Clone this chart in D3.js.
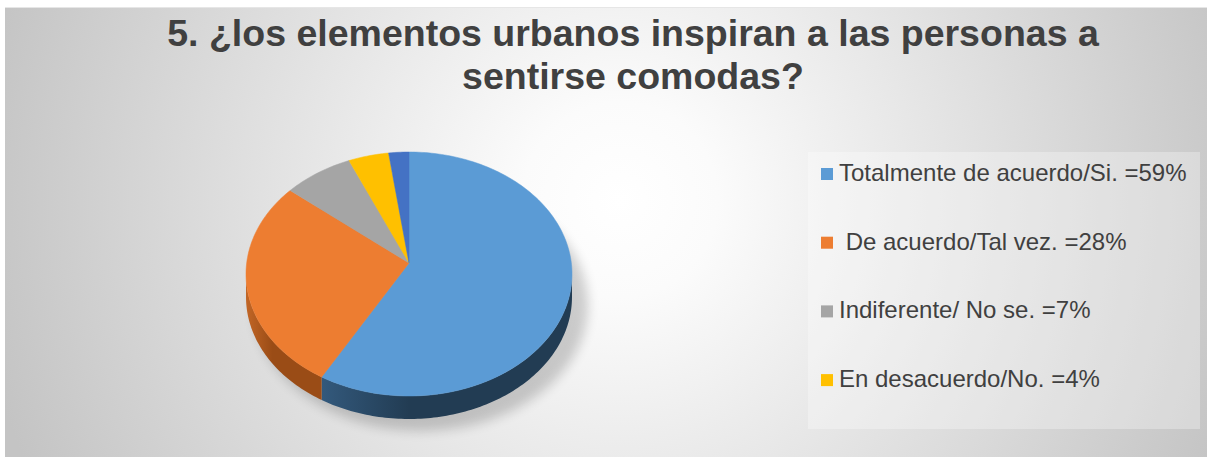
<!DOCTYPE html>
<html><head><meta charset="utf-8">
<script src="https://cdn.jsdelivr.net/npm/d3@7"></script>
<style>html,body{margin:0;padding:0;background:#fff;}svg{display:block;}</style>
</head><body>
<svg id="chart" width="1207" height="457"></svg>
<script>
const titleLines = ["5. ¿los elementos urbanos inspiran a las personas a", "sentirse comodas?"];
const categories = ["Totalmente de acuerdo/Si. =59%", " De acuerdo/Tal vez. =28%", "Indiferente/ No se. =7%", "En desacuerdo/No. =4%", ""];
const values = [59, 28, 7, 4, 2];
const colors = ["#5b9bd5", "#ed7d31", "#a5a5a5", "#ffc000", "#4472c4"];
const sideColors = [["#33597c", "#223c53"], ["#c26626", "#9a4c16"], ["#7c7c7c", "#6a6a6a"], ["#bf9000", "#a07800"], ["#335593", "#2a477a"]];
const legendCount = 4;

const W = 1207, H = 457;
const svg = d3.select("#chart");
const defs = svg.append("defs");

const bg = defs.append("radialGradient").attr("id", "bg").attr("gradientUnits", "userSpaceOnUse")
  .attr("cx", 620).attr("cy", 200).attr("r", 650);
bg.append("stop").attr("offset", "0").attr("stop-color", "#ffffff");
bg.append("stop").attr("offset", "0.15").attr("stop-color", "#fbfbfb");
bg.append("stop").attr("offset", "1").attr("stop-color", "#c4c4c4");

const blur = defs.append("filter").attr("id", "shadow").attr("x", "-20%").attr("y", "-20%").attr("width", "140%").attr("height", "140%");
blur.append("feGaussianBlur").attr("stdDeviation", 6);

svg.append("rect").attr("x", 0).attr("y", 0).attr("width", W).attr("height", H).attr("fill", "#ffffff");
svg.append("rect").attr("x", 5).attr("y", 7).attr("width", W - 5).attr("height", H - 7).attr("fill", "url(#bg)");
svg.append("line").attr("x1", 5).attr("x2", W).attr("y1", 7.5).attr("y2", 7.5).attr("stroke", "#e6e6e6").attr("stroke-width", 1);

// Title
const title = svg.append("text").attr("text-anchor", "middle")
  .attr("font-family", "Liberation Sans, Arial, sans-serif").attr("font-weight", "bold")
  .attr("font-size", 37.5).attr("fill", "#404040");
titleLines.forEach((t, i) => title.append("tspan").attr("x", 633).attr("y", 46 + i * 43).text(t));

// 3D pie
const cx = 409, cy = 274, rx = 163, ry = 122, apexY = 263, depth = 23;
const pie = d3.pie().sort(null).startAngle(0).endAngle(2 * Math.PI).value(d => d);
const arcs = pie(values);
const pt = (a, dy = 0) => [cx + rx * Math.sin(a), cy - ry * Math.cos(a) + dy];
const arcPts = (a0, a1, dy = 0) => {
  const n = Math.max(2, Math.ceil((a1 - a0) / 0.02));
  return d3.range(n + 1).map(i => pt(a0 + (a1 - a0) * i / n, dy));
};
const line = d3.line();

// shadow
svg.append("ellipse").attr("cx", cx + 12).attr("cy", cy + depth + 8).attr("rx", rx + 4).attr("ry", ry + 4)
  .attr("fill", "#000").attr("opacity", 0.18).attr("filter", "url(#shadow)");

// sides (front half: angles PI/2 .. 3PI/2)
arcs.forEach((d, i) => {
  const a0 = Math.max(d.startAngle, Math.PI / 2), a1 = Math.min(d.endAngle, 3 * Math.PI / 2);
  if (a1 <= a0) return;
  const top = arcPts(a0, a1, 0), bot = arcPts(a0, a1, depth).reverse();
  const gid = "side" + i;
  const xs = top.map(p => p[0]);
  const g = defs.append("linearGradient").attr("id", gid).attr("gradientUnits", "userSpaceOnUse")
    .attr("x1", d3.min(xs)).attr("x2", d3.max(xs)).attr("y1", 0).attr("y2", 0);
  g.append("stop").attr("offset", "0").attr("stop-color", sideColors[i][0]);
  g.append("stop").attr("offset", "0.35").attr("stop-color", sideColors[i][1]);
  g.append("stop").attr("offset", "1").attr("stop-color", sideColors[i][1]);
  svg.append("path").attr("d", line(top.concat(bot)) + "Z").attr("fill", `url(#${gid})`);
});

// top faces
arcs.forEach((d, i) => {
  const pts = [[cx, apexY]].concat(arcPts(d.startAngle, d.endAngle, 0));
  svg.append("path").attr("d", line(pts) + "Z").attr("fill", colors[i])
    .attr("stroke", colors[i]).attr("stroke-width", 0.5);
});

// Legend
svg.append("rect").attr("x", 808).attr("y", 152).attr("width", 392).attr("height", 277)
  .attr("fill", "#ffffff").attr("opacity", 0.3);
const leg = svg.append("g");
categories.slice(0, legendCount).forEach((c, i) => {
  const by = 181 + i * 68.7;
  leg.append("rect").attr("x", 821).attr("y", by - 13).attr("width", 12).attr("height", 12).attr("fill", colors[i]);
  leg.append("text").attr("x", 839).attr("y", by).attr("xml:space", "preserve").style("white-space", "pre")
    .attr("font-family", "Liberation Sans, Arial, sans-serif").attr("font-size", 24).attr("fill", "#404040").text(c);
});
</script>
</body></html>
